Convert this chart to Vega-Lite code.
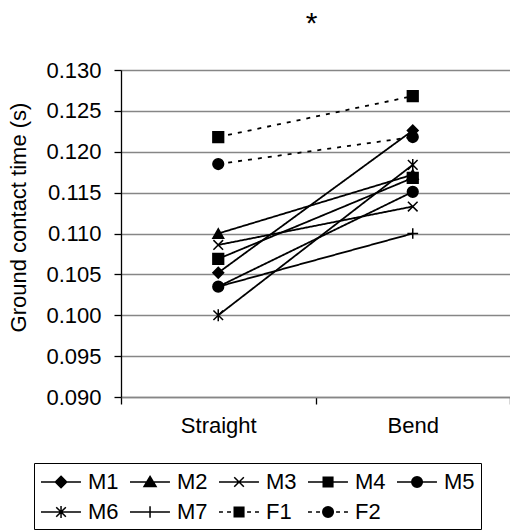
{
  "$schema": "https://vega.github.io/schema/vega-lite/v6.json",
  "width": 389,
  "height": 327,
  "autosize": {"type": "none"},
  "padding": {"left": 121, "top": 70, "right": 0, "bottom": 133},
  "background": "white",
  "title": {
    "text": "*",
    "frame": "group",
    "anchor": "middle",
    "offset": 20,
    "dx": -4,
    "font": "Liberation Sans",
    "fontSize": 30,
    "fontWeight": "normal",
    "color": "black"
  },
  "data": {
    "values": [
      {"rider": "M1", "condition": "Straight", "time": 0.1052},
      {"rider": "M1", "condition": "Bend", "time": 0.1226},
      {"rider": "M2", "condition": "Straight", "time": 0.1100},
      {"rider": "M2", "condition": "Bend", "time": 0.1172},
      {"rider": "M3", "condition": "Straight", "time": 0.1086},
      {"rider": "M3", "condition": "Bend", "time": 0.1133},
      {"rider": "M4", "condition": "Straight", "time": 0.1069},
      {"rider": "M4", "condition": "Bend", "time": 0.1168},
      {"rider": "M5", "condition": "Straight", "time": 0.1035},
      {"rider": "M5", "condition": "Bend", "time": 0.1151},
      {"rider": "M6", "condition": "Straight", "time": 0.1000},
      {"rider": "M6", "condition": "Bend", "time": 0.1184},
      {"rider": "M7", "condition": "Straight", "time": 0.1035},
      {"rider": "M7", "condition": "Bend", "time": 0.1100},
      {"rider": "F1", "condition": "Straight", "time": 0.1218},
      {"rider": "F1", "condition": "Bend", "time": 0.1268},
      {"rider": "F2", "condition": "Straight", "time": 0.1185},
      {"rider": "F2", "condition": "Bend", "time": 0.1218}
    ]
  },
  "encoding": {
    "x": {
      "field": "condition",
      "type": "nominal",
      "sort": ["Straight", "Bend"],
      "scale": {"type": "band", "paddingInner": 0, "paddingOuter": 0},
      "axis": {
        "title": null,
        "tickBand": "extent",
        "labelAngle": 0,
        "tickSize": 7,
        "labelPadding": 11,
        "domainColor": "#868686",
        "domainWidth": 1.3,
        "grid": false
      }
    },
    "y": {
      "field": "time",
      "type": "quantitative",
      "scale": {"domain": [0.09, 0.13], "nice": false, "zero": false},
      "axis": {
        "title": "Ground contact time (s)",
        "values": [0.09, 0.095, 0.1, 0.105, 0.11, 0.115, 0.12, 0.125, 0.13],
        "format": ".3f",
        "grid": true,
        "gridColor": "#868686",
        "gridWidth": 1.3,
        "tickSize": 7,
        "labelPadding": 13,
        "labelFlush": false,
        "labelBound": false,
        "titlePadding": 15,
        "titleY": 147
      }
    }
  },
  "layer": [
    {
      "mark": {"type": "line", "color": "black", "strokeWidth": 1.8},
      "encoding": {
        "detail": {"field": "rider", "type": "nominal"},
        "strokeDash": {
          "field": "rider",
          "type": "nominal",
          "scale": {
            "domain": ["M1", "M2", "M3", "M4", "M5", "M6", "M7", "F1", "F2"],
            "range": [[1, 0], [1, 0], [1, 0], [1, 0], [1, 0], [1, 0], [1, 0], [4, 6], [4, 6]]
          },
          "legend": null
        }
      }
    },
    {
      "mark": {
        "type": "point",
        "filled": true,
        "fill": "black",
        "stroke": "black",
        "strokeWidth": 1.5,
        "opacity": 1,
        "size": 115
      },
      "encoding": {
        "shape": {
          "field": "rider",
          "type": "nominal",
          "scale": {
            "domain": ["M1", "M2", "M3", "M4", "M5", "M6", "M7", "F1", "F2"],
            "range": [
              "diamond",
              "triangle-up",
              "M-0.9,-0.9L0.9,0.9M-0.9,0.9L0.9,-0.9",
              "square",
              "circle",
              "M-0.9,-0.9L0.9,0.9M-0.9,0.9L0.9,-0.9M0,-1.1V1.1",
              "M-1,0H1M0,-1V1",
              "square",
              "circle"
            ]
          },
          "legend": null
        }
      }
    },
    {
      "mark": {
        "type": "point",
        "filled": false,
        "color": "black",
        "stroke": "black",
        "strokeWidth": 1.5,
        "opacity": 0
      },
      "encoding": {
        "shape": {
          "field": "rider",
          "type": "nominal",
          "scale": {
            "domain": ["M1", "M2", "M3", "M4", "M5", "M6", "M7", "F1", "F2"],
            "range": [
              "M-1,0H2.33M0.67,-0.47L1.14,0L0.67,0.47L0.2,0ZM0.6,-0.4H0.74M0.5,-0.3H0.84M0.4,-0.2H0.94M0.3,-0.1H1.04M0.3,0.1H1.04M0.4,0.2H0.94M0.5,0.3H0.84M0.6,0.4H0.74",
              "M-1,0H2.33M0.67,-0.47L1.17,0.37L0.17,0.37ZM0.63,-0.4H0.71M0.57,-0.3H0.77M0.51,-0.2H0.83M0.45,-0.1H0.89M0.33,0.1H1.01M0.27,0.2H1.07M0.21,0.3H1.13",
              "M-1,0H2.33M0.27,-0.4L1.07,0.4M0.27,0.4L1.07,-0.4",
              "M-1,0H2.33M0.27,-0.4H1.07V0.4H0.27ZM0.27,-0.3H1.07M0.27,-0.2H1.07M0.27,-0.1H1.07M0.27,0.1H1.07M0.27,0.2H1.07M0.27,0.3H1.07",
              "M-1,0H2.33M1.11,0C1.11,0.243,0.913,0.44,0.67,0.44C0.427,0.44,0.23,0.243,0.23,0C0.23,-0.243,0.427,-0.44,0.67,-0.44C0.913,-0.44,1.11,-0.243,1.11,0ZM0.49,-0.4H0.85M0.35,-0.3H0.99M0.28,-0.2H1.06M0.24,-0.1H1.1M0.24,0.1H1.1M0.28,0.2H1.06M0.35,0.3H0.99M0.49,0.4H0.85",
              "M-1,0H2.33M0.27,-0.4L1.07,0.4M0.27,0.4L1.07,-0.4M0.67,-0.5V0.5",
              "M-1,0H2.33M0.67,-0.47V0.47",
              "M-1,0H-0.67M-0.33,0H0M1.34,0H1.67M2,0H2.33M0.27,-0.4H1.07V0.4H0.27ZM0.27,-0.3H1.07M0.27,-0.2H1.07M0.27,-0.1H1.07M0.27,0H1.07M0.27,0.1H1.07M0.27,0.2H1.07M0.27,0.3H1.07",
              "M-1,0H-0.67M-0.33,0H0M1.34,0H1.67M2,0H2.33M1.11,0C1.11,0.243,0.913,0.44,0.67,0.44C0.427,0.44,0.23,0.243,0.23,0C0.23,-0.243,0.427,-0.44,0.67,-0.44C0.913,-0.44,1.11,-0.243,1.11,0ZM0.49,-0.4H0.85M0.35,-0.3H0.99M0.28,-0.2H1.06M0.24,-0.1H1.1M0.23,0H1.11M0.24,0.1H1.1M0.28,0.2H1.06M0.35,0.3H0.99M0.49,0.4H0.85"
            ]
          },
          "legend": {
            "title": null,
            "orient": "none",
            "legendX": -87,
            "legendY": 393,
            "columns": 5,
            "direction": "horizontal",
            "strokeColor": "black",
            "padding": 6,
            "cornerRadius": 0,
            "symbolSize": 576,
            "symbolStrokeWidth": 1.5,
            "symbolStrokeColor": "black",
            "symbolOpacity": 1,
            "labelFont": "Liberation Sans",
            "labelFontSize": 22,
            "labelColor": "black",
            "labelOffset": 22,
            "columnPadding": 8,
            "rowPadding": 6,
            "encode": {
              "legend": {
                "update": {
                  "strokeWidth": {"value": 1.3}
                }
              },
              "symbols": {
                "update": {
                  "size": {"value": 576},
                  "opacity": {"value": 1},
                  "stroke": {"value": "black"},
                  "strokeOpacity": {"value": 1},
                  "strokeWidth": {"value": 1.5}
                }
              }
            }
          }
        }
      }
    }
  ],
  "resolve": {"scale": {"shape": "independent"}, "legend": {"shape": "independent"}},
  "config": {
    "view": {"stroke": null},
    "axis": {
      "labelFont": "Liberation Sans",
      "titleFont": "Liberation Sans",
      "labelFontSize": 22,
      "titleFontSize": 22,
      "labelColor": "black",
      "titleColor": "black",
      "titleFontWeight": "normal",
      "tickColor": "black",
      "tickWidth": 1.3,
      "domainColor": "black",
      "domainWidth": 1.3
    }
  }
}
